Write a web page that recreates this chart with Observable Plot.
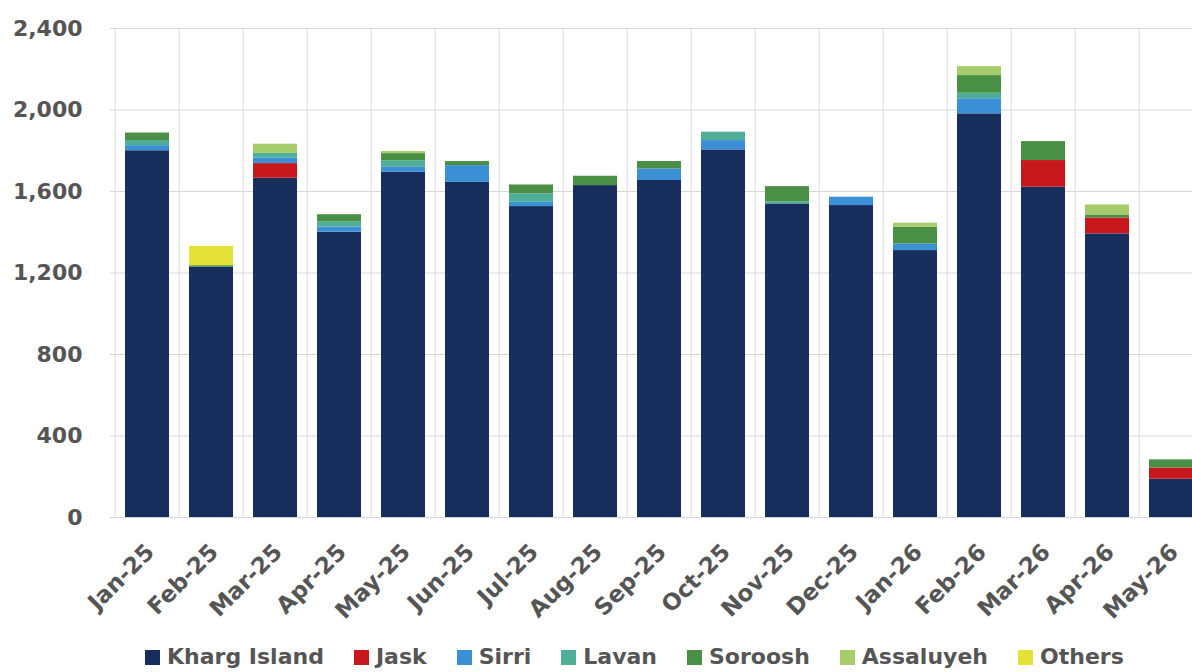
<!DOCTYPE html>
<html>
<head>
<meta charset="utf-8">
<script src="https://cdn.jsdelivr.net/npm/d3@7"></script>
<script src="https://cdn.jsdelivr.net/npm/@observablehq/plot@0.6"></script>
<style>
  html, body { margin: 0; padding: 0; background: #fff; overflow: hidden; width: 1192px; height: 672px; }
  #chart { position: absolute; left: 0; top: 0; width: 1208px; height: 630px; }
  #chart svg { max-width: none !important; width: 1208px !important; height: 630px !important; }
  #legend { position: absolute; top: 644px; left: 145px; display: flex; gap: 30px; font: bold 22px "DejaVu Sans"; color: #555; line-height: 26px; white-space: nowrap; }
  .item { display: flex; align-items: center; gap: 7px; }
  .sw { width: 15px; height: 15px; display: inline-block; }
</style>
</head>
<body>
<div id="chart"></div>
<div id="legend"></div>
<script>
const months = ["Jan-25","Feb-25","Mar-25","Apr-25","May-25","Jun-25","Jul-25","Aug-25","Sep-25","Oct-25","Nov-25","Dec-25","Jan-26","Feb-26","Mar-26","Apr-26","May-26"];
const kharg     = [1800,1228,1665,1400,1694,1645,1526,1629,1654,1804,1539,1531,1310,1981,1621,1392,188];
const jask      = [0,0,72,0,0,0,0,0,0,0,0,0,0,0,131,78,55];
const sirri     = [25,0,28,25,25,82,21,0,57,46,0,41,33,74,0,0,0];
const lavan     = [25,0,22,25,32,0,41,0,0,41,10,0,0,27,0,0,0];
const soroosh   = [37,8,0,36,35,20,44,46,36,0,75,0,82,87,93,15,40];
const assaluyeh = [0,0,45,0,10,0,0,0,0,0,0,0,20,44,0,49,0];
const others    = [0,95,0,0,0,0,0,0,0,0,0,0,0,0,0,0,0];

const seriesNames = ["Kharg Island","Jask","Sirri","Lavan","Soroosh","Assaluyeh","Others"];
const seriesColors = ["#172d5b","#c9181d","#3b8fd4","#4fae97","#4a8f46","#a6cc6c","#e6e136"];
const seriesValues = [kharg, jask, sirri, lavan, soroosh, assaluyeh, others];
const yTicks = [0,400,800,1200,1600,2000,2400];

const rows = [];
seriesNames.forEach((s, si) => {
  months.forEach((m, mi) => rows.push({month: m, series: s, value: seriesValues[si][mi]}));
});

const W = 1208, ML = 110, MR = 0;
const step = (W - ML - MR) / months.length;

const plot = Plot.plot({
  width: W,
  height: 630,
  marginLeft: ML,
  marginRight: MR,
  marginTop: 28,
  marginBottom: 113,
  style: {fontFamily: "DejaVu Sans", background: "#fff"},
  x: {type: "band", domain: months, paddingInner: 0.32, paddingOuter: 0.16, axis: null},
  y: {domain: [0, 2400], axis: null},
  color: {domain: seriesNames, range: seriesColors},
  marks: [
    Plot.gridY({ticks: yTicks, stroke: "#d6d6d6", strokeOpacity: 1}),
    Plot.ruleX(months, {x: d => d, y1: 0, y2: 2400, dx: -step / 2, stroke: "#dcdcdc"}),
    Plot.barY(rows, {x: "month", y: "value", fill: "series", order: seriesNames}),
    Plot.axisY({ticks: yTicks, label: null, tickSize: 0, tickPadding: 28, tickFormat: d3.format(","), fontSize: 22, fontWeight: "bold", fill: "#555"}),
    Plot.text(months, {x: d => d, frameAnchor: "bottom", dy: 36, dx: 8, rotate: -45, textAnchor: "end", fontSize: 23, fontWeight: "bold", fill: "#555"})
  ]
});
document.getElementById("chart").appendChild(plot);

const legend = document.getElementById("legend");
seriesNames.forEach((s, i) => {
  const item = document.createElement("div");
  item.className = "item";
  const sw = document.createElement("span");
  sw.className = "sw";
  sw.style.background = seriesColors[i];
  const t = document.createElement("span");
  t.textContent = s;
  item.appendChild(sw);
  item.appendChild(t);
  legend.appendChild(item);
});
</script>
</body>
</html>
